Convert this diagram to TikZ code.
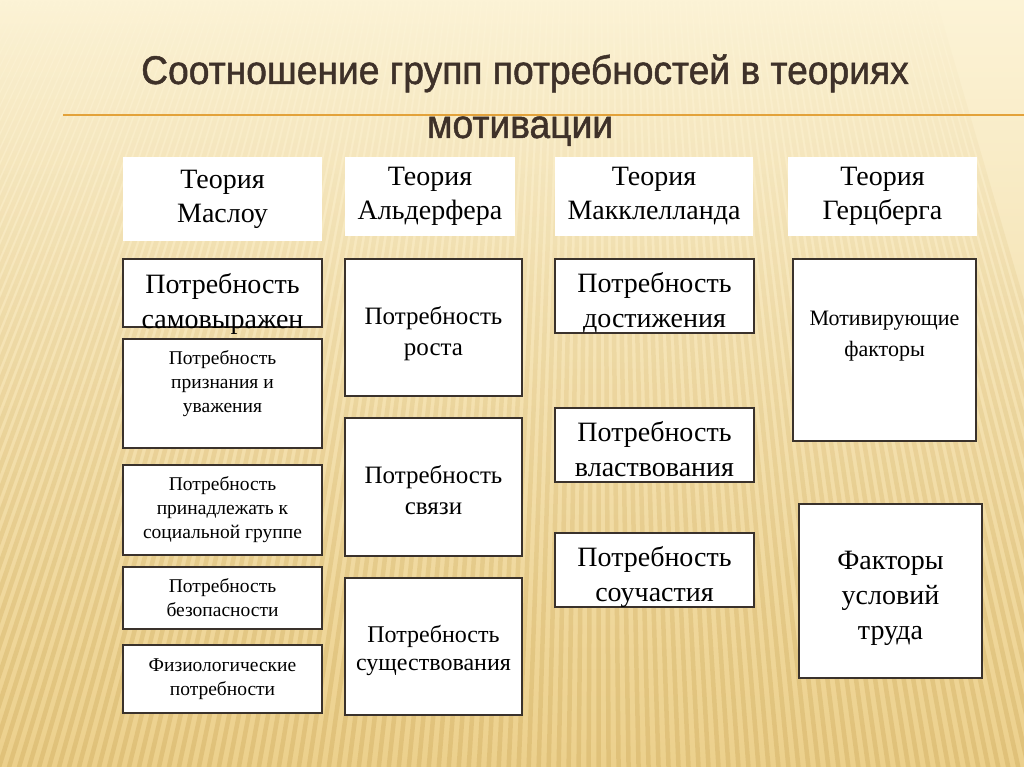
\documentclass[tikz,border=0pt]{standalone}
\usepackage{fontspec}
\setmainfont{Liberation Serif}
\newfontfamily\titlefont[FakeStretch=0.93, FakeBold=1.2]{Liberation Sans}
\usetikzlibrary{positioning,fadings}
\definecolor{bgtop}{HTML}{FCF3D6}
\definecolor{bgmid}{HTML}{F7E5AF}
\definecolor{bgbot}{HTML}{ECD08C}
\definecolor{stripe}{HTML}{CFAC5E}
\definecolor{rulecol}{HTML}{E3A23A}
\definecolor{titlecol}{HTML}{3E3129}
\definecolor{edge}{HTML}{3A322C}
\tikzfading[name=fadeup, top color=transparent!100, middle color=transparent!35, bottom color=transparent!0]
\tikzset{
    head/.style={fill=white, inner sep=0pt, align=center, font=\fontsize{28}{34}\selectfont},
    need/.style={draw=edge, fill=white, line width=1.1pt, inner sep=0pt},
    bigtxt/.style={inner sep=0pt, align=center, font=\fontsize{28}{35}\selectfont},
    midtxt/.style={inner sep=0pt, align=center, font=\fontsize{25}{31}\selectfont},
    smalltxt/.style={inner sep=0pt, align=center, font=\fontsize{19.5}{24}\selectfont},
    titletxt/.style={inner sep=0pt, text=titlecol, font=\titlefont\fontsize{40}{44}\selectfont}
}

\begin{document}
\begin{tikzpicture}[x=1pt, y=-1pt]
    \useasboundingbox (0,0) rectangle (1024,767);
    % background
    \shade[top color=bgtop, middle color=bgmid, bottom color=bgbot] (0,0) rectangle (1024,767);
    \begin{scope}
        \clip (0,0) rectangle (1024,767);
        \draw[stripe, line width=4.5pt, opacity=0.42, path fading=fadeup]
            \foreach \xb in {-900,-890,...,1160} {({600+(\xb-600)*0.6)},0) -- (\xb,767)};
    \end{scope}

    % title
    \coordinate (rl) at (63,115);
    \coordinate (rr) at (1024,115);
    \draw[rulecol, line width=2.2pt] (rl) -- (rr);
    \node[titletxt, anchor=base] (title) at (525,84) {Соотношение групп потребностей в теориях};
    \node[titletxt, anchor=base] (title2) at (520,138) {мотивации};

    % theories
    \node[head, minimum width=199pt, minimum height=84pt] (maslow) at (222.5,199) {Теория\\Маслоу};
    \node[head, minimum width=170pt, minimum height=79pt] (alderfer) at (430,196.5) {Теория\\Альдерфера};
    \node[head, minimum width=198pt, minimum height=79pt] (mcclelland) at (654,196.5) {Теория\\Макклелланда};
    \node[head, minimum width=189pt, minimum height=79pt] (herzberg) at (882.5,196.5) {Теория\\Герцберга};

    % Maslow
    \node[need, minimum width=199pt, minimum height=68pt] (m1) at (222.5,293) {};
    \node[bigtxt, below=15pt of m1.north] (m1t) {Потребность\\самовыражен};
    \node[need, minimum width=199pt, minimum height=109pt] (m2) at (222.5,393.5) {};
    \node[smalltxt, below=12pt of m2.north] (m2t) {Потребность\\признания и\\уважения};
    \node[need, smalltxt, minimum width=199pt, minimum height=90pt] (m3) at (222.5,510) {Потребность\\принадлежать к\\социальной группе};
    \node[need, smalltxt, minimum width=199pt, minimum height=62pt] (m4) at (222.5,598) {Потребность\\безопасности};
    \node[need, smalltxt, minimum width=199pt, minimum height=68pt] (m5) at (222.5,679) {Физиологические\\потребности};

    % Alderfer
    \node[need, minimum width=177pt, minimum height=137pt] (a1) at (433.5,327.5) {};
    \node[midtxt, yshift=-6pt] (a1t) at (a1) {Потребность\\роста};
    \node[need, minimum width=177pt, minimum height=138pt] (a2) at (433.5,487) {};
    \node[midtxt, yshift=-3pt] (a2t) at (a2) {Потребность\\связи};
    \node[need, minimum width=177pt, minimum height=137pt] (a3) at (433.5,646.5) {};
    \node[midtxt, yshift=-4pt, font=\fontsize{24}{28}\selectfont] (a3t) at (a3) {Потребность\\существования};

    % McClelland
    \node[need, minimum width=199pt, minimum height=74pt] (d1) at (654.5,296) {};
    \node[bigtxt, below=14pt of d1.north] (d1t) {Потребность\\достижения};
    \node[need, minimum width=199pt, minimum height=74pt] (d2) at (654.5,445) {};
    \node[bigtxt, below=14pt of d2.north] (d2t) {Потребность\\властвования};
    \node[need, minimum width=199pt, minimum height=74pt] (d3) at (654.5,570) {};
    \node[bigtxt, below=14pt of d3.north] (d3t) {Потребность\\соучастия};

    % Herzberg
    \node[need, minimum width=183pt, minimum height=182pt] (e1) at (884.5,350) {};
    \node[inner sep=0pt, align=center, font=\fontsize{22}{31}\selectfont, below=52pt of e1.north] (e1t) {Мотивирующие\\факторы};
    \node[need, minimum width=183pt, minimum height=174pt] (e2) at (890.5,591) {};
    \node[bigtxt, yshift=-7pt] (e2t) at (e2) {Факторы\\условий\\труда};
\end{tikzpicture}
\end{document}
